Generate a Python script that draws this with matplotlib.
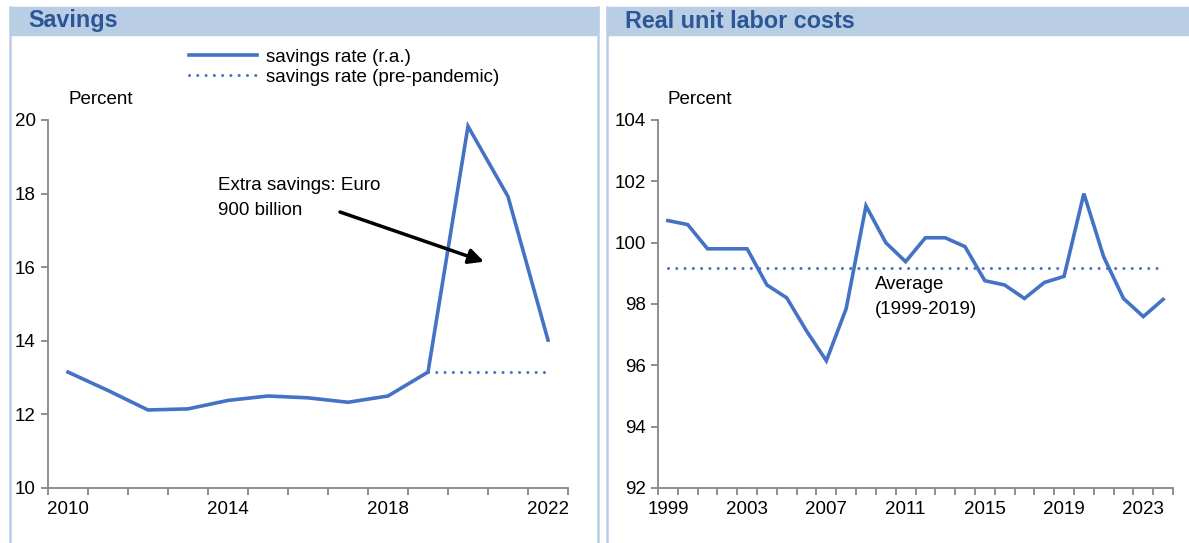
import matplotlib.pyplot as plt
from matplotlib.patches import Rectangle
from matplotlib.lines import Line2D

plt.rcParams['font.family'] = ['Liberation Sans', 'DejaVu Sans']

# Savings panel data
sav_years = list(range(2010, 2023))
sav_rate = [13.15, 12.65, 12.12, 12.15, 12.38, 12.5, 12.45, 12.33, 12.5, 13.15, 19.83, 17.92, 14.02]
pre_years = [2019, 2020, 2021, 2022]
pre_rate = [13.15, 13.15, 13.15, 13.15]
sav_ticks = [2010, 2014, 2018, 2022]

# Real unit labor costs data
ulc_years = list(range(1999, 2025))
ulc = [100.72, 100.59, 99.8, 99.8, 99.8, 98.62, 98.2, 97.12, 96.15, 97.85,
       101.2, 100.0, 99.38, 100.16, 100.16, 99.87, 98.76, 98.62, 98.18, 98.7,
       98.9, 101.6, 99.54, 98.18, 97.59, 98.15]
ulc_avg = 99.16
ulc_ticks = [1999, 2003, 2007, 2011, 2015, 2019, 2023]

W, H = 1189, 543
BLUE = '#4472C4'
BAND = '#B9CDE5'
TITLE = '#2B5797'
GRAY = '#868686'
FS = 13.5

fig = plt.figure(figsize=(W / 100, H / 100), dpi=100)


def fx(x):
    return x / W


def fy(y):
    return 1 - y / H


# panel frames and header bands
for x0, x1, title in [(10, 598, 'Savings'), (607, W + 5, 'Real unit labor costs')]:
    fig.patches.append(Rectangle((fx(x0), fy(35)), fx(x1 - x0), 28 / H,
                                 transform=fig.transFigure, color=BAND, zorder=0))
    fig.text(fx(x0 + 18), fy(21), title, fontsize=16.8, fontweight='bold',
             color=TITLE, va='center', ha='left')
for xl in [10, 598, 607]:
    fig.lines.append(Line2D([fx(xl), fx(xl)], [fy(7), 0], transform=fig.transFigure,
                            color=BAND, lw=1.8))


def style(ax, years, yticks):
    for s in ['top', 'right']:
        ax.spines[s].set_visible(False)
    for s in ['left', 'bottom']:
        ax.spines[s].set_color(GRAY)
        ax.spines[s].set_linewidth(1.3)
    ax.set_yticks(yticks)
    ax.set_yticklabels([str(v) for v in yticks], fontsize=FS)
    ax.tick_params(axis='y', length=5, color=GRAY, width=1.3, pad=4)
    bounds = [y - 0.5 for y in years] + [years[-1] + 0.5]
    ax.set_xticks(bounds)
    ax.set_xticklabels([])
    ax.tick_params(axis='x', which='major', length=5, color=GRAY, width=1.3)
    ax.set_xlim(bounds[0], bounds[-1])


# ---- Savings ----
ax1 = fig.add_axes([fx(48), fy(488), fx(520), 368 / H])
ax1.plot(sav_years, sav_rate, color=BLUE, lw=2.6, solid_joinstyle='miter',
         label='savings rate (r.a.)')
ax1.plot(pre_years, pre_rate, color=BLUE, lw=2.2, linestyle=(0, (0.01, 2.7)),
         dash_capstyle='round', label='savings rate (pre-pandemic)')
style(ax1, sav_years, [10, 12, 14, 16, 18, 20])
ax1.set_ylim(10, 20)
ax1.set_xticks(sav_ticks, [str(t) for t in sav_ticks], minor=True, fontsize=FS)
ax1.tick_params(axis='x', which='minor', length=0, pad=9)
ax1.legend(loc='center left', bbox_to_anchor=(fx(180), fy(67)),
           bbox_transform=fig.transFigure, frameon=False, fontsize=FS,
           handlelength=3.6, handletextpad=0.5, labelspacing=0.15, borderpad=0)
fig.text(fx(68), fy(100), 'Percent', fontsize=FS, va='center')
ax1.text(2013.75, 18.45, 'Extra savings: Euro\n900 billion', fontsize=FS,
         va='top', ha='left', linespacing=1.6)
ax1.annotate('', xy=(2020.4, 16.15), xytext=(2016.8, 17.5),
             arrowprops=dict(arrowstyle='-|>,head_length=0.9,head_width=0.45',
                             color='black', lw=2.5, shrinkA=0, shrinkB=0))

# ---- Real unit labor costs ----
ax2 = fig.add_axes([fx(658), fy(488), fx(515), 368 / H])
ax2.plot(ulc_years, ulc, color=BLUE, lw=2.6, solid_joinstyle='miter')
ax2.plot([ulc_years[0], ulc_years[-1]], [ulc_avg, ulc_avg], color=BLUE, lw=2.2,
         linestyle=(0, (0.01, 2.7)), dash_capstyle='round')
style(ax2, ulc_years, [92, 94, 96, 98, 100, 102, 104])
ax2.set_ylim(92, 104)
ax2.set_xticks(ulc_ticks, [str(t) for t in ulc_ticks], minor=True, fontsize=FS)
ax2.tick_params(axis='x', which='minor', length=0, pad=9)
fig.text(fx(667), fy(100), 'Percent', fontsize=FS, va='center')
ax2.text(2009.45, 98.9, 'Average\n(1999-2019)', fontsize=FS, va='top', ha='left',
         linespacing=1.6)

fig.savefig('out.png', dpi=100)
